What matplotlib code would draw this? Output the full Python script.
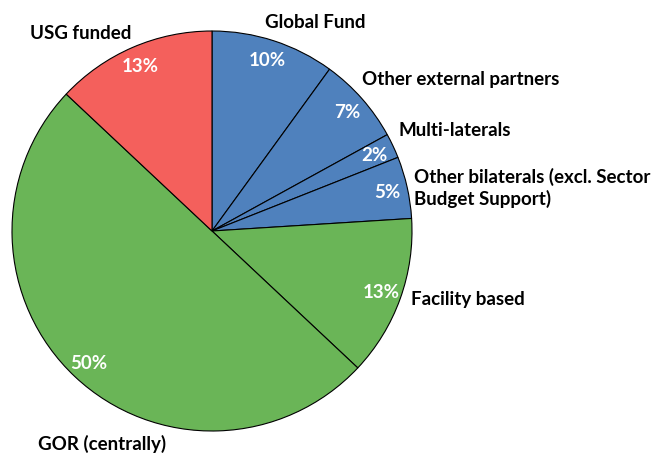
import matplotlib.pyplot as plt

labels = ['Global Fund', 'Other external partners', 'Multi-laterals',
          'Other bilaterals (excl. Sector\nBudget Support)', 'Facility based',
          'GOR (centrally)', 'USG funded']
values = [10, 7, 2, 5, 13, 50, 13]
colors = ['#4F81BD', '#4F81BD', '#4F81BD', '#4F81BD', '#6AB557', '#6AB557', '#F4605C']

# label anchor positions in pixels (left, center y measured from top)
label_pos = [(265, 22), (362, 80), (398, 131), (414, 188), (411, 300), (38, 444), (30, 33)]

plt.rcParams['font.family'] = ['Lato', 'DejaVu Sans']

fig = plt.figure(figsize=(6.63, 4.56), dpi=100)
ax = fig.add_axes([0, 0, 1, 1])
wedges, texts, autotexts = ax.pie(values, colors=colors, startangle=90, counterclock=False,
                                  center=(212, 456 - 232), radius=200,
                                  autopct='%d%%', pctdistance=0.9,
                                  wedgeprops=dict(edgecolor='black', linewidth=0.8),
                                  textprops=dict(color='white', fontsize=13.5, fontweight='bold'))
ax.set_xlim(0, 663)
ax.set_ylim(0, 456)
ax.set_aspect('equal')
ax.axis('off')

for lab, (x, y) in zip(labels, label_pos):
    ax.text(x, 456 - y, lab, ha='left', va='center', fontsize=13.5, fontweight='bold',
            color='black', linespacing=1.25)

plt.savefig('out.png', dpi=100)
plt.close(fig)
